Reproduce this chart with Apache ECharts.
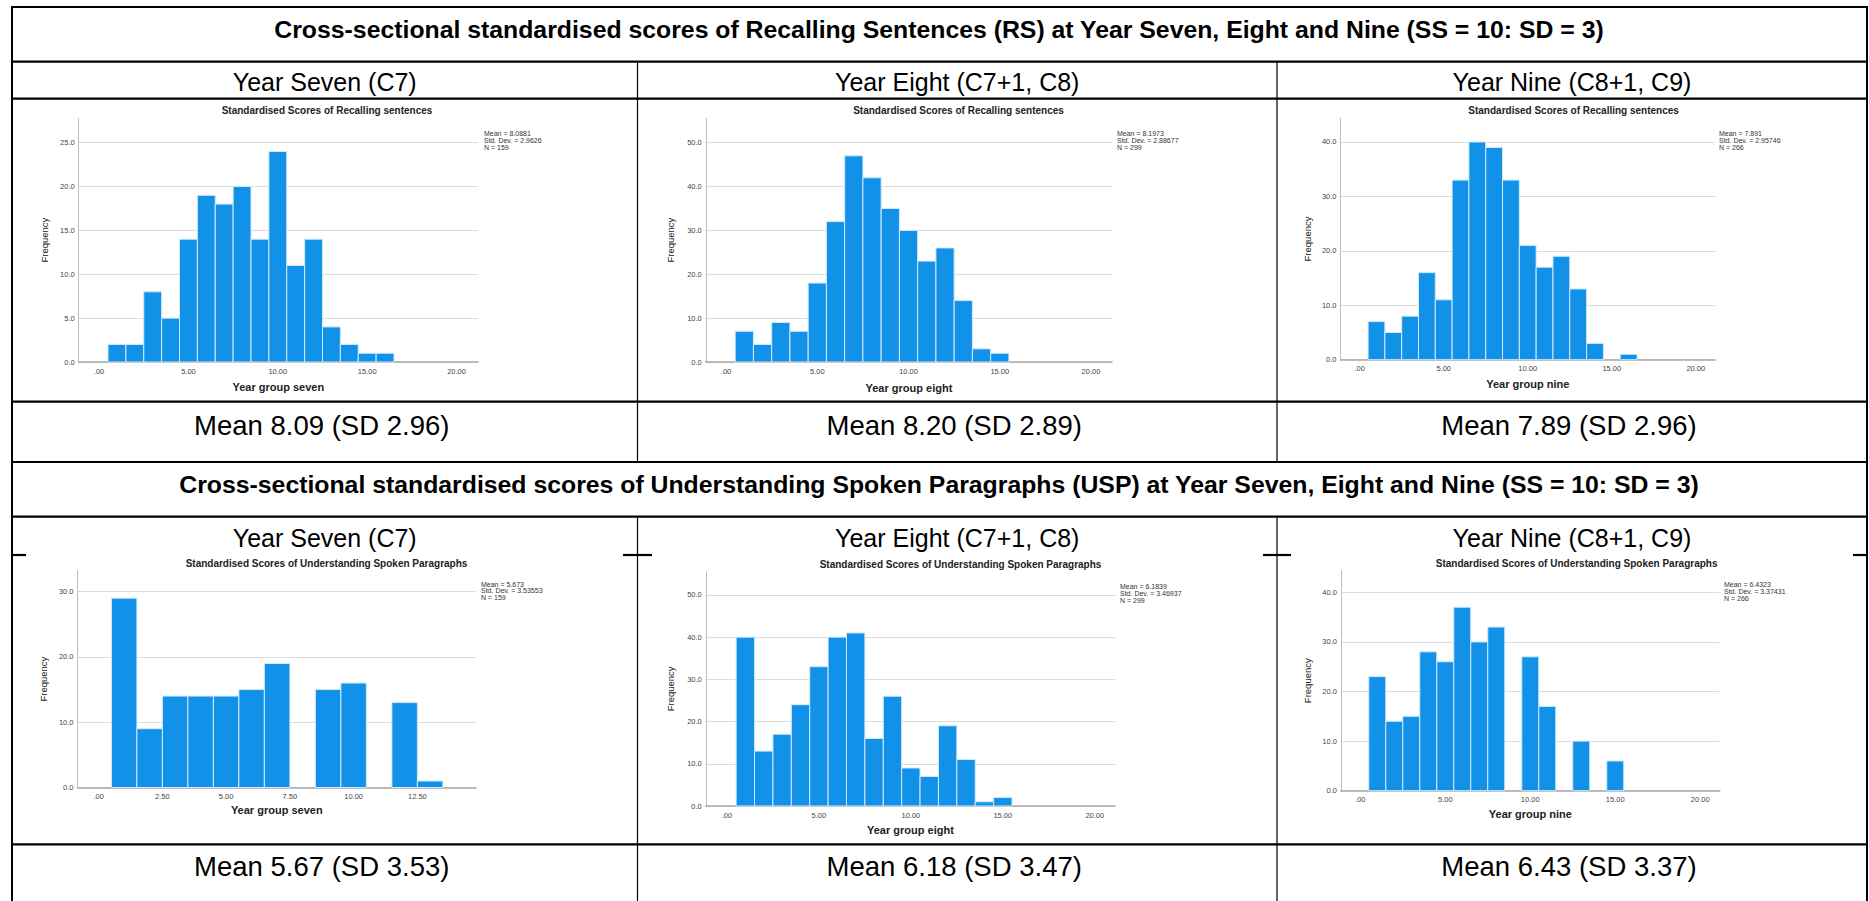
<!DOCTYPE html>
<html><head><meta charset="utf-8">
<script src="https://cdn.jsdelivr.net/npm/echarts@6/dist/echarts.min.js"></script>
<style>html,body{margin:0;padding:0;background:#fff}#main{width:1869px;height:901px}</style>
</head><body><div id="main"></div>
<script>
// ---------- DATA ----------
const sectionTitles = [
  'Cross-sectional standardised scores of Recalling Sentences (RS) at Year Seven, Eight and Nine (SS = 10: SD = 3)',
  'Cross-sectional standardised scores of Understanding Spoken Paragraphs (USP) at Year Seven, Eight and Nine (SS = 10: SD = 3)'
];
const yearHeaders = ['Year Seven (C7)', 'Year Eight (C7+1, C8)', 'Year Nine (C8+1, C9)'];
const chartTitles = ['Standardised Scores of Recalling sentences', 'Standardised Scores of Understanding Spoken Paragraphs'];
const xAxisNames = ['Year group seven', 'Year group eight', 'Year group nine'];
const rsMeanLabels = ['Mean 8.09 (SD 2.96)', 'Mean 8.20 (SD 2.89)', 'Mean 7.89 (SD 2.96)'];
const uspMeanLabels = ['Mean 5.67 (SD 3.53)', 'Mean 6.18 (SD 3.47)', 'Mean 6.43 (SD 3.37)'];

const rsStatMean = ['8.0881', '8.1973', '7.891'];
const rsStatSD = ['2.9626', '2.88677', '2.95746'];
const rsStatN = ['159', '299', '266'];
const uspStatMean = ['5.673', '6.1839', '6.4323'];
const uspStatSD = ['3.53553', '3.46937', '3.37431'];
const uspStatN = ['159', '299', '266'];

const rsY7Bins = [1, 2, 3, 4, 5, 6, 7, 8, 9, 10, 11, 12, 13, 14, 15, 16];
const rsY7Freq = [2, 2, 8, 5, 14, 19, 18, 20, 14, 24, 11, 14, 4, 2, 1, 1];
const rsY8Bins = [1, 2, 3, 4, 5, 6, 7, 8, 9, 10, 11, 12, 13, 14, 15];
const rsY8Freq = [7, 4, 9, 7, 18, 32, 47, 42, 35, 30, 23, 26, 14, 3, 2];
const rsY9Bins = [1, 2, 3, 4, 5, 6, 7, 8, 9, 10, 11, 12, 13, 14, 16];
const rsY9Freq = [7, 5, 8, 16, 11, 33, 40, 39, 33, 21, 17, 19, 13, 3, 1];
const uspY7Bins = [1, 2, 3, 4, 5, 6, 7, 9, 10, 12, 13];
const uspY7Freq = [29, 9, 14, 14, 14, 15, 19, 15, 16, 13, 1];
const uspY8Bins = [1, 2, 3, 4, 5, 6, 7, 8, 9, 10, 11, 12, 13, 14, 15];
const uspY8Freq = [40, 13, 17, 24, 33, 40, 41, 16, 26, 9, 7, 19, 11, 1, 2];
const uspY9Bins = [1, 2, 3, 4, 5, 6, 7, 8, 10, 11, 13, 15];
const uspY9Freq = [23, 14, 15, 28, 26, 37, 30, 33, 27, 17, 10, 6];

const xTicks20 = [0, 5, 10, 15, 20];
const xTicksUspY7 = [0, 2.5, 5, 7.5, 10, 12.5];
const yTicks25 = [0, 5, 10, 15, 20, 25];
const yTicks50 = [0, 10, 20, 30, 40, 50];
const yTicks40 = [0, 10, 20, 30, 40];
const yTicks30 = [0, 10, 20, 30];

// axis extents
const xMins = [-1.14, -1.11, -1.14, -0.83, -1.15, -1.14];
const xMaxs = [21.2, 21.15, 21.14, 14.8, 21.1, 21.15];
const yMaxs = [27.78, 55.56, 44.35, 33.2, 55.5, 44.36];

// ---------- LAYOUT ----------
const charts = [
  {bins: rsY7Bins, freq: rsY7Freq, xt: xTicks20, yt: yTicks25, title: chartTitles[0], xname: xAxisNames[0],
   stat: [rsStatMean[0], rsStatSD[0], rsStatN[0]],
   g: {left: 78.7, top: 118.3, width: 399.3, height: 243.7}, titleXY: [327, 110], statXY: [484, 130.5], nameGap: 19.5, yNameGap: 29.7},
  {bins: rsY8Bins, freq: rsY8Freq, xt: xTicks20, yt: yTicks50, title: chartTitles[0], xname: xAxisNames[1],
   stat: [rsStatMean[1], rsStatSD[1], rsStatN[1]],
   g: {left: 705.8, top: 118.3, width: 406.2, height: 243.7}, titleXY: [958.5, 110], statXY: [1117, 130.5], nameGap: 20.2, yNameGap: 30.6},
  {bins: rsY9Bins, freq: rsY9Freq, xt: xTicks20, yt: yTicks40, title: chartTitles[0], xname: xAxisNames[2],
   stat: [rsStatMean[2], rsStatSD[2], rsStatN[2]],
   g: {left: 1340.5, top: 118.3, width: 374.5, height: 241.4}, titleXY: [1573.6, 110], statXY: [1719, 130.5], nameGap: 19.1, yNameGap: 27.8},
  {bins: uspY7Bins, freq: uspY7Freq, xt: xTicksUspY7, yt: yTicks30, title: chartTitles[1], xname: xAxisNames[0],
   stat: [uspStatMean[0], uspStatSD[0], uspStatN[0]],
   g: {left: 77.5, top: 570.7, width: 398.5, height: 216.8}, titleXY: [326.5, 563.3], statXY: [481, 580.8], nameGap: 17, yNameGap: 28.8},
  {bins: uspY8Bins, freq: uspY8Freq, xt: xTicks20, yt: yTicks50, title: chartTitles[1], xname: xAxisNames[1],
   stat: [uspStatMean[1], uspStatSD[1], uspStatN[1]],
   g: {left: 705.8, top: 571.7, width: 409.2, height: 234.3}, titleXY: [960.5, 564], statXY: [1120, 583.2], nameGap: 18.5, yNameGap: 30.6},
  {bins: uspY9Bins, freq: uspY9Freq, xt: xTicks20, yt: yTicks40, title: chartTitles[1], xname: xAxisNames[2],
   stat: [uspStatMean[2], uspStatSD[2], uspStatN[2]],
   g: {left: 1340.9, top: 570.7, width: 378.9, height: 220}, titleXY: [1576.6, 563.3], statXY: [1724, 581.2], nameGap: 17.8, yNameGap: 28.3}
];

const FONT = '"Liberation Sans", Arial, sans-serif';
const BAR_FILL = '#1192e8';
const BAR_EDGE = '#d2e9fb';

function xFmt(v) { return v === 0 ? '.00' : v.toFixed(2); }
function yFmt(v) { return v.toFixed(1); }

function renderBar(params, api) {
  const x = api.value(0), y = api.value(1);
  const p0 = api.coord([x - 0.5, 0]);
  const p1 = api.coord([x + 0.5, y]);
  return {
    type: 'rect',
    shape: {x: p0[0], y: p1[1], width: p1[0] - p0[0], height: p0[1] - p1[1]},
    style: {fill: BAR_FILL, stroke: BAR_EDGE, lineWidth: 1}
  };
}

const grid = [], xAxis = [], yAxis = [], series = [], graphic = [];

charts.forEach((c, i) => {
  grid.push(Object.assign({containLabel: false}, c.g));
  xAxis.push({
    gridIndex: i, type: 'value', min: xMins[i], max: xMaxs[i],
    name: c.xname, nameLocation: 'middle', nameGap: c.nameGap,
    nameTextStyle: {fontFamily: FONT, fontWeight: 'bold', fontSize: 11, color: '#222'},
    axisLine: {show: true, onZero: false, lineStyle: {color: '#a8a8a8', width: 1.5}},
    axisTick: {show: false, customValues: c.xt},
    axisLabel: {customValues: c.xt, formatter: xFmt, fontFamily: FONT, fontSize: 7.5, color: '#444', margin: 5},
    splitLine: {show: false}
  });
  yAxis.push({
    gridIndex: i, type: 'value', min: 0, max: yMaxs[i],
    name: 'Frequency', nameLocation: 'middle', nameGap: c.yNameGap, nameRotate: 90,
    nameTextStyle: {fontFamily: FONT, fontSize: 9.5, color: '#222'},
    axisLine: {show: true, onZero: false, lineStyle: {color: '#bdbdbd', width: 1}},
    axisTick: {show: false, customValues: c.yt},
    axisLabel: {customValues: c.yt, formatter: yFmt, fontFamily: FONT, fontSize: 7.5, color: '#444', margin: 4},
    splitLine: {show: true, lineStyle: {color: '#dcdcdc', width: 1}}
  });
  series.push({
    type: 'custom', xAxisIndex: i, yAxisIndex: i, renderItem: renderBar,
    encode: {x: 0, y: 1}, silent: true,
    data: c.bins.map((b, k) => [b, c.freq[k]])
  });
  graphic.push({
    type: 'text', x: c.titleXY[0], y: c.titleXY[1],
    style: {text: c.title, font: 'bold 10px ' + FONT, fill: '#222', align: 'center', verticalAlign: 'middle', textAlign: 'center', textVerticalAlign: 'middle'}
  });
  graphic.push({
    type: 'text', x: c.statXY[0], y: c.statXY[1],
    style: {text: 'Mean = ' + c.stat[0] + '\nStd. Dev. = ' + c.stat[1] + '\nN = ' + c.stat[2],
      font: '7px ' + FONT, lineHeight: 6.8, fill: '#333', align: 'left', verticalAlign: 'top', textAlign: 'left', textVerticalAlign: 'top'}
  });
});

// ---------- TABLE ----------
const L = 12, R = 1867, C1 = 637.5, C2 = 1277;
const hLines = [7, 61.7, 98.7, 401.7, 462, 516.7, 844.3];
function line(x1, y1, x2, y2, w) {
  return {type: 'line', shape: {x1, y1, x2, y2}, style: {stroke: '#000', lineWidth: w}, z: 10};
}
hLines.forEach(y => graphic.push(line(L - 1, y, R + 1, y, 2.2)));
[[L, 26], [623, 652], [1263, 1291], [1853, R]].forEach(s => graphic.push(line(s[0], 555, s[1], 555, 2.2)));
graphic.push(line(L, 6, L, 901, 2));
graphic.push(line(R, 6, R, 901, 2));
[C1, C2].forEach(x => {
  graphic.push(line(x, 61.7, x, 462, 1.2));
  graphic.push(line(x, 516.7, x, 901, 1.2));
});

function txt(s, x, y, font) {
  return {type: 'text', x, y, z: 10,
    style: {text: s, font, fill: '#000', align: 'center', verticalAlign: 'middle', textAlign: 'center', textVerticalAlign: 'middle'}};
}
const colCenters = [(L + C1) / 2, (C1 + C2) / 2, (C2 + R) / 2];
graphic.push(txt(sectionTitles[0], 939, 29, 'bold 24.8px ' + FONT));
graphic.push(txt(sectionTitles[1], 939, 484, 'bold 24.8px ' + FONT));
colCenters.forEach((cx, i) => {
  graphic.push(txt(yearHeaders[i], cx, 82, '25px ' + FONT));
  graphic.push(txt(yearHeaders[i], cx, 537.5, '25px ' + FONT));
  graphic.push(txt(rsMeanLabels[i], cx - 3, 425, '27.5px ' + FONT));
  graphic.push(txt(uspMeanLabels[i], cx - 3, 866, '27.5px ' + FONT));
});

const chart = echarts.init(document.getElementById('main'), null, {renderer: 'svg', width: 1869, height: 901});
chart.setOption({
  backgroundColor: '#ffffff',
  animation: false,
  grid, xAxis, yAxis, series, graphic
});
</script>
</body></html>
